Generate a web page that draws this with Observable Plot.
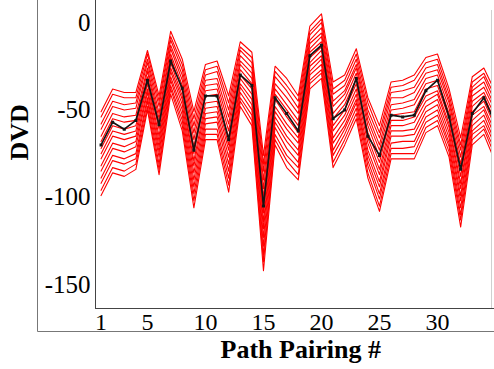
<!DOCTYPE html>
<html><head><meta charset="utf-8">
<script src="https://cdn.jsdelivr.net/npm/d3@7"></script>
<script src="https://cdn.jsdelivr.net/npm/@observablehq/plot@0.6"></script>
<style>body{margin:0;background:#fff} svg{display:block} svg text{font-family:'Liberation Serif','Times New Roman',Times,serif;}</style>
</head><body><div id="chart"></div>
<script>
// Path pairing numbers (x)
const pairing = [1,2,3,4,5,6,7,8,9,10,11,12,13,14,15,16,17,18,19,20,21,22,23,24,25,26,27,28,29,30,31,32,33,34,35];
// Mean DVD (black line)
const meanDVD = [-70,-57,-61,-56,-33,-58.5,-22,-37.6,-73,-42,-42,-67,-30,-36,-105,-43,-52,-62,-19,-13,-55,-50,-32,-65,-76,-53,-54,-53,-39,-33,-54,-84,-52,-43,-58];
// Individual runs (red lines)
const r01 = [-51,-38,-40,-40,-16,-42,-5,-21,-51,-24,-22,-42,-11,-17,-76,-25,-32,-42,-2,5,-34,-30,-15,-43,-59,-34,-33,-30,-20,-18,-38,-66,-31,-26,-40];
const r02 = [-54,-41,-43,-43,-18,-45,-8,-24,-55,-27,-25,-46,-14,-20,-81,-28,-36,-45,-5,2,-38,-33,-18,-46,-63,-37,-36,-33,-23,-21,-41,-70,-34,-29,-43];
const r03 = [-58,-45,-47,-46,-21,-48,-10,-27,-59,-30,-28,-50,-16,-23,-85,-31,-39,-49,-7,0,-41,-36,-21,-50,-66,-40,-39,-37,-26,-24,-44,-73,-37,-31,-46];
const r04 = [-61,-48,-50,-49,-23,-52,-13,-30,-63,-33,-32,-54,-19,-26,-90,-35,-43,-52,-10,-3,-45,-39,-24,-53,-70,-43,-43,-40,-29,-27,-46,-77,-39,-34,-49];
const r05 = [-65,-52,-54,-53,-26,-55,-15,-33,-67,-36,-35,-58,-22,-29,-95,-38,-47,-56,-12,-6,-48,-41,-26,-56,-73,-47,-46,-44,-32,-30,-49,-81,-42,-37,-51];
const r06 = [-68,-55,-57,-56,-28,-58,-18,-36,-71,-39,-38,-62,-24,-32,-100,-41,-50,-59,-15,-8,-52,-44,-29,-59,-77,-50,-49,-47,-35,-33,-52,-84,-45,-40,-54];
const r07 = [-72,-59,-61,-59,-31,-61,-20,-39,-75,-42,-41,-66,-27,-35,-104,-44,-54,-63,-17,-11,-55,-47,-32,-63,-80,-53,-52,-51,-38,-36,-55,-88,-48,-42,-57];
const r08 = [-75,-62,-64,-62,-33,-65,-23,-42,-79,-46,-45,-70,-30,-38,-109,-48,-58,-66,-20,-14,-59,-50,-35,-66,-84,-56,-56,-54,-42,-39,-58,-92,-51,-45,-60];
const r09 = [-78,-65,-67,-65,-35,-68,-26,-44,-82,-49,-48,-73,-32,-41,-114,-51,-61,-69,-23,-16,-62,-53,-38,-69,-87,-59,-59,-57,-45,-41,-60,-95,-53,-48,-63];
const r10 = [-82,-69,-71,-68,-38,-71,-28,-47,-86,-52,-51,-77,-35,-44,-118,-54,-65,-73,-25,-19,-66,-56,-41,-73,-91,-62,-62,-61,-48,-44,-63,-99,-56,-50,-66];
const r11 = [-85,-72,-74,-71,-40,-74,-31,-50,-90,-55,-54,-81,-37,-47,-123,-57,-68,-76,-28,-21,-69,-59,-44,-76,-94,-65,-65,-64,-51,-47,-66,-102,-59,-53,-69];
const r12 = [-89,-76,-78,-75,-43,-77,-33,-53,-94,-58,-57,-85,-40,-50,-128,-60,-72,-80,-30,-24,-73,-61,-46,-79,-98,-69,-68,-68,-54,-50,-69,-106,-62,-56,-71];
const r13 = [-92,-79,-81,-78,-45,-81,-36,-56,-98,-61,-61,-89,-43,-53,-133,-64,-76,-83,-33,-27,-76,-64,-49,-82,-101,-72,-72,-71,-57,-53,-71,-110,-64,-59,-74];
const r14 = [-96,-83,-85,-81,-48,-84,-38,-59,-102,-64,-64,-93,-45,-56,-137,-67,-79,-87,-35,-29,-80,-67,-52,-86,-105,-75,-75,-75,-60,-56,-74,-113,-67,-61,-77];
const r15 = [-99,-86,-88,-84,-50,-87,-41,-62,-106,-67,-67,-97,-48,-59,-142,-70,-83,-90,-38,-32,-83,-70,-55,-89,-108,-78,-78,-78,-63,-59,-77,-117,-70,-64,-80];
// Tick labels
const xTicks = [1,5,10,15,20,25,30];
const yTicks = [0,-50,-100,-150];
const xLabel = "Path Pairing #";
const yLabel = "DVD";

const redRuns = [r01,r02,r03,r04,r05,r06,r07,r08,r09,r10,r11,r12,r13,r14,r15];
const redRows = redRuns.flatMap((run, k) => run.map((v, i) => ({x: pairing[i], y: v, run: k})));
const meanRows = meanDVD.map((v, i) => ({x: pairing[i], y: v}));

const W = 494, H = 369;
const mL = 95, mR = 2.5, mT = 0, mB = 61;
const serif = "'Liberation Serif','Times New Roman',Times,serif";
const fmt = d => String(d); // plain hyphen-minus as in the original

const chart = Plot.plot({
  width: W, height: H,
  marginLeft: mL, marginRight: mR, marginTop: mT, marginBottom: mB,
  style: {fontFamily: serif, fontSize: "24px", background: "#fff", color: "#000"},
  x: {domain: [0.52, 34.7], axis: null},
  y: {domain: [-163.6, 12.6], axis: null},
  marks: [
    Plot.line(redRows, {x: "x", y: "y", z: "run", stroke: "#ff0000", strokeWidth: 1.1, clip: true}),
    Plot.line(meanRows, {x: "x", y: "y", stroke: "#151515", strokeWidth: 1.7, clip: true}),
    Plot.dot(meanRows, {x: "x", y: "y", symbol: "square", r: 1.7, fill: "#151515", clip: true}),
    Plot.axisX({ticks: xTicks, tickFormat: fmt, tickSize: 0, tickPadding: 4, fontSize: 24, fontFamily: serif, fontVariant: "normal", label: null}),
    Plot.axisY({ticks: yTicks, tickFormat: fmt, tickSize: 0, tickPadding: 5, fontSize: 25, fontFamily: serif, fontVariant: "normal", label: null}),
    Plot.text([yLabel], {text: d => d, frameAnchor: "left", dx: -76, dy: 6, rotate: -90, fontSize: 26, fontFamily: serif, fontWeight: "bold", lineAnchor: "middle"}),
    Plot.text([xLabel], {text: d => d, frameAnchor: "bottom", dx: 7, dy: 41, fontSize: 26, fontFamily: serif, fontWeight: "bold", lineAnchor: "middle"})
  ]
});
document.getElementById("chart").appendChild(chart);

// Figure frame decorations (pixel layout)
const svg = d3.select(chart);
const frame = [
  {x1: mL + 0.5, y1: 0, x2: mL + 0.5, y2: H - mB, c: "#444"},
  {x1: mL, y1: H - mB + 0.5, x2: W, y2: H - mB + 0.5, c: "#444"},
  {x1: W - mR, y1: 10, x2: W - mR, y2: H - mB, c: "#d0d0d0"},
  {x1: 37.5, y1: 0, x2: 37.5, y2: 331.5, c: "#777"},
  {x1: 37.5, y1: 331.5, x2: W, y2: 331.5, c: "#777"}
];
svg.append("g").selectAll("line").data(frame).join("line")
  .attr("x1", d => d.x1).attr("y1", d => d.y1).attr("x2", d => d.x2).attr("y2", d => d.y2)
  .attr("stroke", d => d.c).attr("stroke-width", 1);
</script>
</body></html>
